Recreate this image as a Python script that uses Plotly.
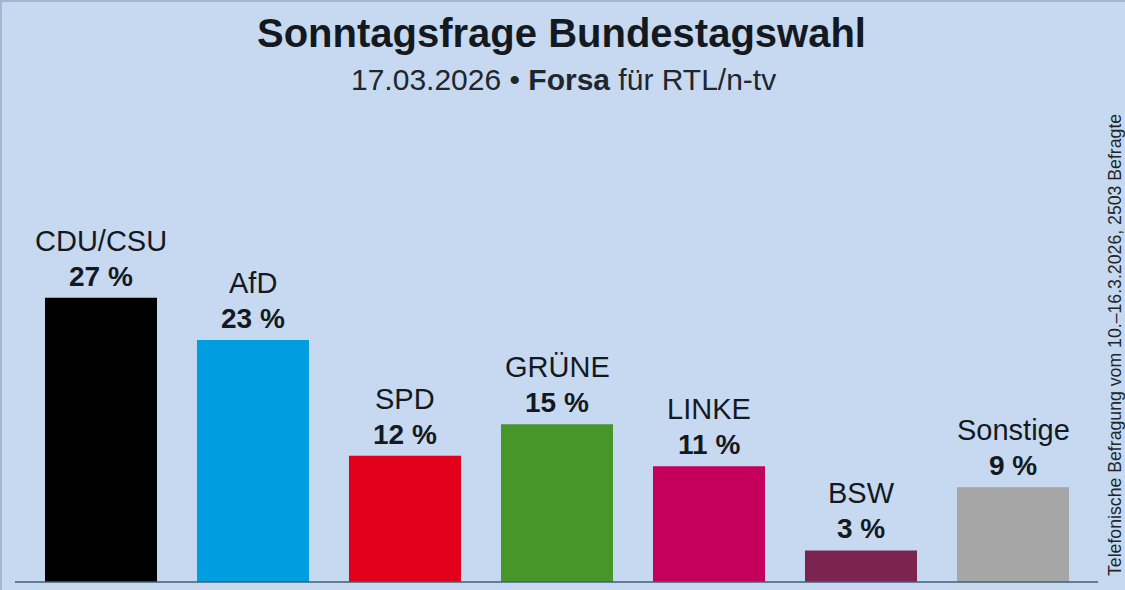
import plotly.graph_objects as go

parties = ["CDU/CSU", "AfD", "SPD", "GRÜNE", "LINKE", "BSW", "Sonstige"]
values = [27, 23, 12, 15, 11, 3, 9]
colors = ["#000000", "#009ee0", "#e3001b", "#46962b", "#c5005c", "#7b2450", "#a6a6a6"]

WIDTH, HEIGHT = 1125, 590
LEFT, RIGHT, BOTTOM = 25, 36, 8
FONT = "Liberation Sans"
TEXT = "#14191f"


def px_x(x):
    "figure pixel to paper x"
    return (x - LEFT) / (WIDTH - LEFT - RIGHT)


def px_y(y):
    "figure pixel (from top) to paper y"
    return (HEIGHT - BOTTOM - y) / (HEIGHT - BOTTOM)


fig = go.Figure()
fig.add_trace(go.Bar(
    x=parties,
    y=values,
    marker=dict(color=colors, line=dict(width=0)),
    width=0.737,
))

fig.update_layout(
    width=WIDTH,
    height=HEIGHT,
    margin=dict(l=LEFT, r=RIGHT, t=0, b=BOTTOM, pad=0),
    paper_bgcolor="#c6d9f0",
    plot_bgcolor="#c6d9f0",
    showlegend=False,
    font=dict(family=FONT),
    xaxis=dict(showticklabels=False, ticks="", showgrid=False, zeroline=False, showline=False),
    yaxis=dict(visible=False, range=[0, 55.3]),
)

# party name and share above each bar
for party, value in zip(parties, values):
    fig.add_annotation(x=party, y=value, text=f"<b>{value} %</b>", showarrow=False,
                       yanchor="bottom", yshift=4,
                       font=dict(size=28, color=TEXT, family=FONT))
    fig.add_annotation(x=party, y=value, text=party, showarrow=False,
                       yanchor="bottom", yshift=39,
                       font=dict(size=29, color=TEXT, family=FONT))

fig.add_annotation(x=px_x(561.5), y=px_y(33), xref="paper", yref="paper", xanchor="center", yanchor="middle",
                   text="<b>Sonntagsfrage Bundestagswahl</b>", showarrow=False,
                   font=dict(size=40, color=TEXT, family=FONT))
fig.add_annotation(x=px_x(563), y=px_y(80), xref="paper", yref="paper", xanchor="center", yanchor="middle",
                   text="17.03.2026 • <b>Forsa</b> für RTL/n-tv", showarrow=False,
                   font=dict(size=30, color="#20262c", family=FONT))
fig.add_annotation(x=px_x(1115), y=px_y(345), xref="paper", yref="paper", xanchor="center", yanchor="middle",
                   text="Telefonische Befragung vom 10.–16.3.2026, 2503 Befragte",
                   showarrow=False, textangle=-90,
                   font=dict(size=17.7, color="#20262c", family=FONT))

# baseline and the darker picture edge
fig.add_shape(type="line", xref="paper", yref="paper", x0=px_x(15), x1=px_x(1098), y0=px_y(582), y1=px_y(582),
              line=dict(color="#3f5f78", width=1.5))
fig.add_shape(type="rect", xref="paper", yref="paper", x0=px_x(0), x1=px_x(WIDTH), y0=px_y(0), y1=px_y(2),
              fillcolor="#a3b5d0", line=dict(width=0))
fig.add_shape(type="rect", xref="paper", yref="paper", x0=px_x(0), x1=px_x(2), y0=px_y(0), y1=px_y(HEIGHT),
              fillcolor="#a3b5d0", line=dict(width=0))

fig.write_html("out.html", config=dict(displayModeBar=False),
               post_script="document.body.style.margin='0';document.documentElement.style.overflow='hidden';")
